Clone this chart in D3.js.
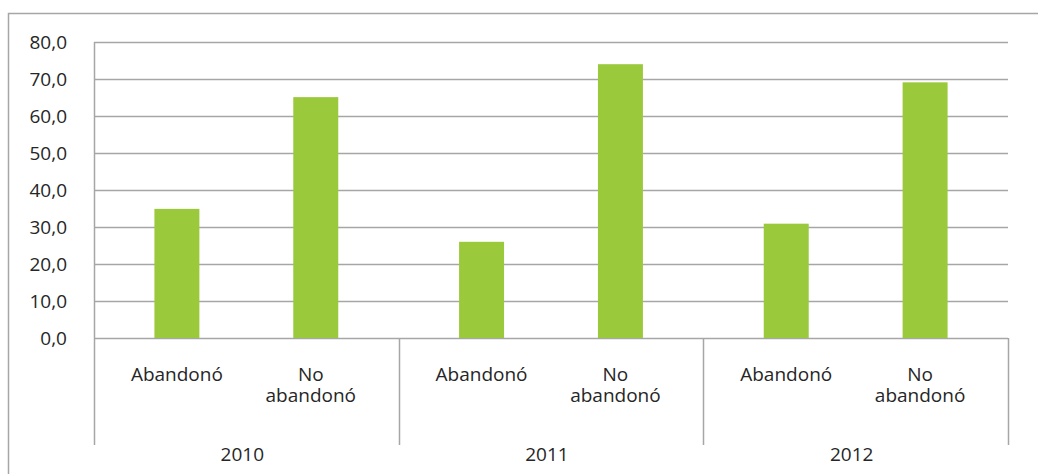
<!DOCTYPE html>
<html>
<head>
<meta charset="utf-8">
<script src="https://cdn.jsdelivr.net/npm/d3@7"></script>
<style>
  body { margin: 0; background: #fff; }
  text { font-family: "Open Sans", sans-serif; fill: #262626; }
</style>
</head>
<body>
<div class="chart"></div>
<script>
const width = 1038;
const height = 474;

const years = ['2010', '2011', '2012'];
const categories = ['Abandonó', 'No abandonó'];
const abandono = [34.9, 26.0, 30.9];
const noAbandono = [65.1, 74.0, 69.1];
const yTicks = [0, 10, 20, 30, 40, 50, 60, 70, 80];

const series = [abandono, noAbandono];

const svg = d3
  .select('.chart')
  .append('svg')
  .attr('width', width)
  .attr('height', height);

// outer chart frame (only left and top visible)
svg.append('path')
  .attr('d', `M8.5,${height} V13.5 H${width}`)
  .attr('fill', 'none')
  .attr('stroke', '#a6a6a6')
  .attr('stroke-width', 1.5);

const plotLeft = 94;
const plotRight = 1008;

const y = d3.scaleLinear().domain([0, 80]).range([338, 42]);

const x0 = d3.scaleBand().domain(years).range([plotLeft, plotRight]);
const x1 = d3
  .scaleBand()
  .domain(categories)
  .range([0, x0.bandwidth()])
  .paddingInner(0.676)
  .paddingOuter(0.435);

// gridlines
svg.append('g')
  .selectAll('line')
  .data(yTicks)
  .enter()
  .append('line')
  .attr('x1', plotLeft)
  .attr('x2', plotRight)
  .attr('y1', d => Math.round(y(d)) + 0.5)
  .attr('y2', d => Math.round(y(d)) + 0.5)
  .attr('stroke', '#a6a6a6')
  .attr('stroke-width', 1.5);

// y labels
svg.append('g')
  .selectAll('text')
  .data(yTicks)
  .enter()
  .append('text')
  .attr('x', 67)
  .attr('y', d => y(d))
  .attr('dy', '0.35em')
  .attr('text-anchor', 'end')
  .style('font-size', '19px')
  .text(d => d3.format('.1f')(d).replace('.', ','));

// bars
const groups = svg.append('g')
  .selectAll('g')
  .data(years)
  .enter()
  .append('g')
  .attr('transform', d => `translate(${x0(d)},0)`);

groups.selectAll('rect')
  .data((d, i) => categories.map((c, j) => ({ cat: c, value: series[j][i] })))
  .enter()
  .append('rect')
  .attr('x', d => x1(d.cat))
  .attr('width', x1.bandwidth())
  .attr('y', d => y(d.value))
  .attr('height', d => y(0) - y(d.value))
  .attr('fill', '#9aca3c');

// axis lines: left axis and group separators
const seps = [plotLeft].concat(years.map(d => x0(d) + x0.bandwidth()));
svg.append('g')
  .selectAll('line')
  .data(seps)
  .enter()
  .append('line')
  .attr('x1', d => Math.round(d) + 0.5)
  .attr('x2', d => Math.round(d) + 0.5)
  .attr('y1', (d, i) => (i === 0 ? 42 : 338))
  .attr('y2', 445)
  .attr('stroke', '#a6a6a6')
  .attr('stroke-width', 1.5);

// category labels
groups.selectAll('text.cat')
  .data(categories)
  .enter()
  .append('text')
  .attr('class', 'cat')
  .attr('text-anchor', 'middle')
  .style('font-size', '19px')
  .each(function (d) {
    const words = d.split(' ');
    const t = d3.select(this);
    words.forEach((w, k) => {
      t.append('tspan')
        .attr('x', x1(d) + x1.bandwidth() / 2 - (words.length > 1 ? 5 : 0))
        .attr('y', 381 + k * 21)
        .text(w);
    });
  });

// year labels
groups.append('text')
  .attr('x', x0.bandwidth() / 2 - 4)
  .attr('y', 461)
  .attr('text-anchor', 'middle')
  .style('font-size', '19px')
  .text(d => d);
</script>
</body>
</html>
